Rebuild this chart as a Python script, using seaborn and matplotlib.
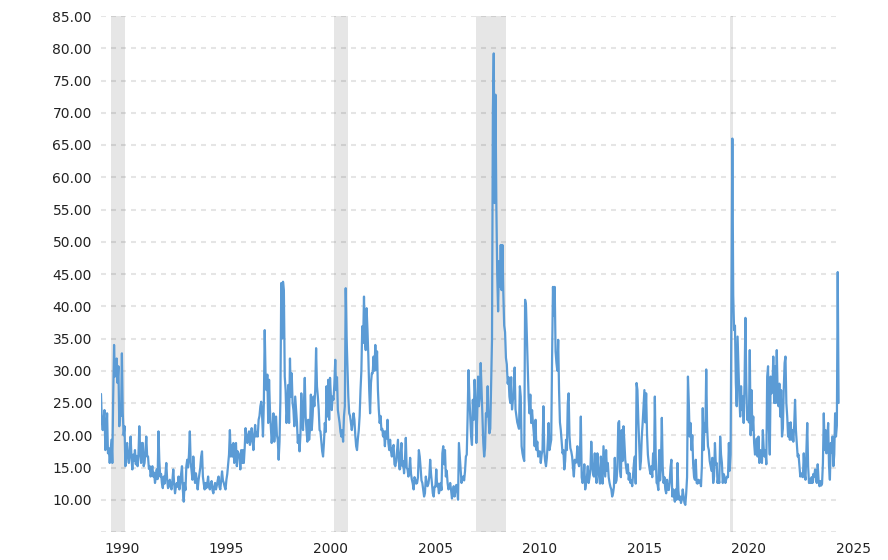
import numpy as np
import pandas as pd
import matplotlib
matplotlib.use("Agg")
import matplotlib.pyplot as plt
import seaborn as sns

# Semi-monthly VIX readings (two values per month)
vix_1990 = [26.4,22,20.8,22.5,23.9,17.7,20,23.4,17.2,18,15.7,17.5,19.3,15.7,26,34,29.1,30,31.9,28.1,30.7,21.4,24,23]
vix_1991 = [32.7,23.4,20,21.4,15.2,18,18.8,16.5,15.7,17.5,19.8,16.5,14.7,17,16,17.7,15.5,16.8,15.2,17,21.4,17.5,15.7,18.8]
vix_1992 = [18.8,15.2,15.7,17.5,19.8,16.7,16.7,14.8,15.2,13.6,14.5,15.2,13.6,14.2,12.6,13.5,14.7,13.2,20.6,16,13.6,14,12.5,11.8]
vix_1993 = [13.6,12.5,14,15.7,13,11.8,12.5,13.1,12,11.6,13,14.7,12.5,11,12,12.6,12,13.6,11.6,12.5,14,15.2,11.5,9.7]
vix_1994 = [12.6,11.5,15.2,16.2,15,17,20.6,15.7,14.5,13.1,16.7,14,12.6,14.1,13,11.6,13,14,15,16.7,17.5,13.6,12.5,11.6]
vix_1995 = [12.6,11.8,12.5,13.6,12,11.6,12.5,12.9,11.5,11.0,12,12.6,11.6,12.2,13,13.6,12,11.6,13,14.4,13,12.6,12,11.6]
vix_1996 = [13.1,14,15.5,17,20.8,16.7,18.5,16.7,18.8,15.7,17,18.8,15.2,17.5,17.2,16.7,14.7,17.7,15.7,17.7,15.7,18,21.1,19.5]
vix_1997 = [18.8,20,20.6,18.5,19.3,21.1,19.5,17.7,20,21.6,19.8,20.5,19.8,22.4,23,24.5,25.2,23,19.8,25,36.3,29.1,27,29.4]
vix_1998 = [21.9,28.6,24,21.4,18.8,20.5,23.4,19,21.9,22.9,20,19.3,16.2,19,25.5,43.6,35,43.8,42.5,29.1,27,21.9,24,27.8]
vix_1999 = [21.9,31.9,26,29.6,25,23.9,21.4,26,23.9,22,18.8,20,17.5,20,26.5,22,20.8,25,28.9,22.9,20.8,19,22.4,19.3]
vix_2000 = [21,26.3,20.8,23,26,24.5,27,33.5,27.6,26,24,20.8,20.6,19,17.5,16.7,18.8,21.9,20.5,27.6,22.9,28.6,22.4,28.9]
vix_2001 = [26,23.9,26,25.5,28,31.7,27,29,23.9,22.9,21.9,20.5,19.8,20.8,19,22.9,24.5,42.8,35.3,30.7,26,23.4,23,21.9]
vix_2002 = [20.8,22,23.4,22.4,20,18.3,17.7,19.5,20.8,23,27,30,36.9,34.3,41.5,34.8,33.2,39.7,36.3,32.2,27,23.4,28.1,29.6]
vix_2003 = [29.6,32.2,30,34,30.1,33,27,24,21.9,23,20.8,21,19.8,20.6,18.3,20.6,19.5,22.4,18.8,17.7,19.3,17.5,16.7,18]
vix_2004 = [18.5,15.5,15.2,16,17.7,19.3,16,14.7,17,18.8,15.2,16,14.1,16,19.6,15,14.7,13.6,14.5,16.5,14,13.1,12.5,11.6]
vix_2005 = [13.5,13.1,12.5,12.6,13.5,17.7,16.7,15,13,12.6,11.5,10.5,11,13.6,12.5,12.1,12.5,13.6,16.2,14,12.6,11,10.5,12]
vix_2006 = [12,14.7,12.1,12.5,11,11.5,12.6,11.5,17.2,18.3,15.5,17.7,13.6,14.5,12.6,11.6,12,12.6,11.5,10.2,11,12.1,10.5,11.5]
vix_2007 = [12.3,11.5,10,18.8,16.7,14.5,12.6,13.5,13.6,13,14.4,16.7,17,22.9,30.1,26,22.9,19.8,18.5,25.5,22.4,28.6,25.5,18.8]
vix_2008 = [23,29.1,24.5,26,31.2,27,22.9,18.8,16.7,18,23.4,22.9,27.6,22.9,20.3,21,28.1,34.8,70.2,79.2,56,72.8,55.5,44.9]
vix_2009 = [39.2,47,43,49.5,42.5,49.5,42,37,36,32,31,28,29,26,25,29,24,25.5,26,30.5,24,23,22,21.5]
vix_2010 = [21,27.6,26,18.3,17.2,16.5,16,41,40.2,35.3,30.1,26,23.4,26.3,21.9,23.9,21.9,20.3,18.3,22.4,17.7,19,16.7,17.5]
vix_2011 = [17.5,15.7,17,17.7,24.5,17.7,16,15.2,16.5,18.8,21.9,17.7,18.5,19.3,32,43,38.5,43,33,31.2,30,34.8,27,22]
vix_2012 = [20.8,19,17.2,17.7,14.7,16,19.3,17.7,25,26.5,19.8,18,17.5,16.7,15,13.6,16.2,15.7,16,18.3,15.7,15.2,17,22.9]
vix_2013 = [13.5,12.6,13.1,15.5,11.6,12.5,13.5,15.2,12.6,13.5,14.7,19,15.7,14,13.6,17.2,14,12.6,17.2,15,13.6,12.5,16.7,13.8]
vix_2014 = [12.5,18.3,16,13.6,17.7,14.5,15.7,13.5,12.6,12,11.6,10.5,11,12,16.5,12.6,13,15,21.9,22.2,14.7,13.5,20.8,16]
vix_2015 = [21.4,19,16.2,15,14.1,15.5,13.1,14.1,12.6,13,12.1,14,15.7,16.7,12.5,28.1,27,22.4,18.8,14.7,16,19.8,21.9,24.5]
vix_2016 = [27,22,26.5,20.3,17,15.7,14.7,14,15.2,13.5,17.2,14.7,26,16.7,12.6,12.5,11.5,17.7,13,15.2,22.7,15.2,12.6,13.5]
vix_2017 = [11.6,11,13.1,11.6,11.5,12.6,15,16.2,10.5,11.6,10.5,9.7,11.6,10,15.7,11.5,10,10.5,9.5,10,11.6,10.5,9.5,9.2]
vix_2018 = [11,13.5,29.1,25,19.8,21.9,17.7,20,15.5,13.6,13.1,16.2,12.6,12.5,13.1,12.6,13,12.1,15.2,24.2,17.7,21.9,20.5,30.2]
vix_2019 = [21.4,18.3,17.7,16,15.2,14.5,16.5,12.6,13.6,18.8,15.5,15.7,12.6,13.5,12.6,19.8,17,15.7,12.6,14,13.6,12.6,13.2,13.6]
vix_2020 = [13.5,18.8,14.5,17,40.1,66,41.7,36.3,37,28.1,24.5,35.3,30.7,26,22.9,27.6,23.9,26,21.9,28.1,38.2,28.1,22.4,23.9]
vix_2021 = [22,33.2,20,27,20.8,22.9,18.8,17,17.7,19.5,16.7,19.8,15.7,17.7,16.5,15.7,20.8,18,16.7,17.7,15.5,29.1,30.7,20.8]
vix_2022 = [17,29.1,26.5,27,32.2,25,30.7,25,33.2,26.5,24.5,28,22.9,27,19.8,21,27,31.2,32.2,25,22.9,19.8,21.9,19.3]
vix_2023 = [22,19.3,20.8,19,21.5,25.5,20.8,18.8,16.7,17,15.2,13.6,14.1,13.6,13.5,17.2,14,13.1,17.5,21.9,15.2,12.6,13.1,12.6]
vix_2024 = [13.5,12.6,14,13.6,14.7,13,12.6,15.5,13.1,12.1,12.9,12.2,12.5,15.7,23.4,17.7,20.8,17.2,19,21.9,15.2,13.1,18.8,17.3]
vix_2025 = [19.8,15.2,17,23.4,19.8,21.5,45.3,25]

first_year = 1990
per_year = 24

# Recessions (decimal years)
rec_start = [1990.5, 2001.17, 2007.92, 2020.1]
rec_end = [1991.17, 2001.83, 2009.4, 2020.25]

# Tick labels: each year label sits at the end of that year on the chart
tick_years = [1990, 1995, 2000, 2005, 2010, 2015, 2020, 2025]
y_ticks = [10, 15, 20, 25, 30, 35, 40, 45, 50, 55, 60, 65, 70, 75, 80, 85]

series = [vix_1990, vix_1991, vix_1992, vix_1993, vix_1994, vix_1995, vix_1996,
          vix_1997, vix_1998, vix_1999, vix_2000, vix_2001, vix_2002, vix_2003,
          vix_2004, vix_2005, vix_2006, vix_2007, vix_2008, vix_2009, vix_2010,
          vix_2011, vix_2012, vix_2013, vix_2014, vix_2015, vix_2016, vix_2017,
          vix_2018, vix_2019, vix_2020, vix_2021, vix_2022, vix_2023, vix_2024,
          vix_2025]
values = np.concatenate([np.asarray(s, dtype=float) for s in series])
t = first_year + np.arange(len(values)) / per_year
df = pd.DataFrame({"t": t, "vix": values})

sns.set_theme(style="white")
plt.rcParams["font.family"] = ["DejaVu Sans"]
plt.rcParams["lines.scale_dashes"] = False

W, H = 888, 560
fig = plt.figure(figsize=(W / 100, H / 100), dpi=100)
px_per_year = 20.9
x0, x1 = 1990.0, 2026.5
ax = fig.add_axes([101 / W, 28 / H, (x1 - x0) * px_per_year / W, 516 / H])
ax.set_xlim(x0, x1)
ax.set_ylim(5, 85)

for s, e in zip(rec_start, rec_end):
    ax.axvspan(s, e, color="#e6e6e6", lw=0, zorder=0)

ax.hlines([5] + y_ticks, x0, t[-1], colors="black", alpha=0.1,
          linewidth=1.5, linestyles=[(0, (3.6, 3.6))], zorder=1)

sns.lineplot(data=df, x="t", y="vix", color="#5B9BD5", linewidth=1.6,
             ax=ax, zorder=3)

ax.set_yticks(y_ticks)
ax.set_yticklabels([f"{v:.2f}" for v in y_ticks])
ax.set_xticks([y + 1 for y in tick_years])
ax.set_xticklabels([str(y) for y in tick_years])
ax.set_xlabel("")
ax.set_ylabel("")
ax.grid(False)
for sp in ax.spines.values():
    sp.set_visible(False)
ax.tick_params(axis="both", length=0, labelsize=10, colors="#222222")
ax.tick_params(axis="y", pad=6.5)
ax.tick_params(axis="x", pad=7)

fig.savefig("out.png", dpi=100)
